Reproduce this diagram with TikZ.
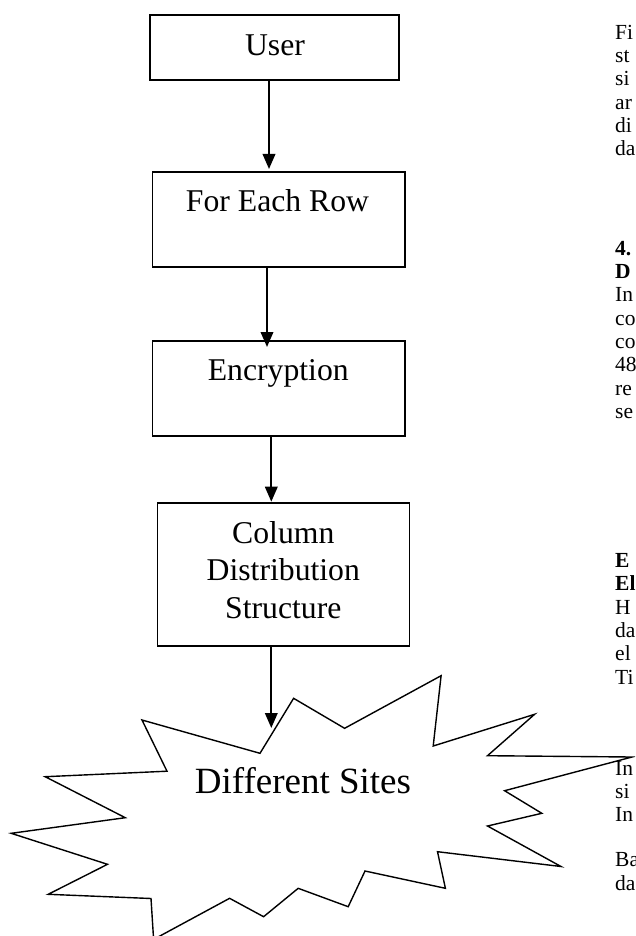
\documentclass[tikz,border=0pt]{standalone}
\usepackage{fontspec}
\setmainfont{Liberation Serif}
\usetikzlibrary{arrows.meta}
\begin{document}
\begin{tikzpicture}[x=1pt,y=-1pt,
  box/.style={draw, line width=1.5pt, inner sep=0pt, outer sep=0pt},
  boxtext/.style={font=\fontsize{31.7}{37.5}\selectfont, anchor=base, inner sep=0pt},
  flow/.style={line width=2pt, -{Triangle[length=15pt,width=12.5pt]}},
  burst/.style={line width=1.4pt, line join=miter, miter limit=20, fill=white},
  bursttext/.style={font=\fontsize{37}{42}\selectfont, anchor=base, inner sep=0pt},
  col/.style={font=\fontsize{21.5}{23.3}\selectfont, anchor=base west, inner sep=0pt},
  colb/.style={col, font=\fontsize{21.5}{23.3}\selectfont\bfseries}
]
\useasboundingbox (0,0) rectangle (635,936);
\clip (0,0) rectangle (635,936);

% process boxes
\node[box, minimum width=249pt, minimum height=65pt] (u) at (274.5,47.5) {};
\node[boxtext] (ut) at (275,56) {User};

\node[box, minimum width=252.3pt, minimum height=95pt] (fer) at (278.85,219.5) {};
\node[boxtext] (fert) at (277.5,211.7) {For Each Row};

\node[box, minimum width=252.3pt, minimum height=95pt] (enc) at (278.85,388.5) {};
\node[boxtext] (enct) at (278.3,380.7) {Encryption};

\node[box, minimum width=251.6pt, minimum height=143pt] (col) at (283.5,574.5) {};
\node[boxtext] (colt1) at (283.3,543.3) {Column};
\node[boxtext] (colt2) at (283.3,580.5) {Distribution};
\node[boxtext] (colt3) at (283.3,618.3) {Structure};

% starburst
\draw[burst] (260,753.3) -- (293.6,698.3) -- (344.6,728.3) -- (441.1,675.7)
  -- (433.2,746) -- (534.6,714.3) -- (487.5,755.7) -- (632,757)
  -- (504.6,790.7) -- (541.8,813.3) -- (487.5,826) -- (561,866.5)
  -- (437.5,851.7) -- (445.4,888.3) -- (365,871) -- (348.2,906.7)
  -- (298.2,888.3) -- (263.6,916.7) -- (229.6,898.3) -- (153.6,939.4)
  -- (151,898.5) -- (48.2,894.3) -- (107.5,864.3) -- (11.2,833.3)
  -- (125.3,817.7) -- (45.2,776.7) -- (167,771.2) -- (142,720) -- cycle;
\node[bursttext] (ds) at (303,793.3) {Different Sites};
\coordinate (hit) at (271.3,728);

% connectors
\coordinate (a1) at ([xshift=-5.5pt]u.south);
\coordinate (a2) at ([xshift=-11.85pt]fer.south);
\coordinate (a3) at ([xshift=-7.55pt]enc.south);
\coordinate (a4) at ([xshift=-12.2pt]col.south);
\draw[flow, shorten >=3pt] (a1) -- (a1 |- fer.north);
\draw[flow, shorten >=-6pt] (a2) -- (a2 |- enc.north);
\draw[flow, shorten >=1.3pt] (a3) -- (a3 |- col.north);
\draw[flow] (a4) -- (hit);

% neighbouring text column, cut by the page edge
\node[col] (r1) at (615,39.3) {Fi};
\node[col] (r2) at (615,62.7) {st};
\node[col] (r3) at (615,86) {si};
\node[col] (r4) at (615,109.3) {ar};
\node[col] (r5) at (615,132.7) {di};
\node[col] (r6) at (615,156) {da};
\node[colb] (r7) at (615,255) {4.};
\node[colb] (r8) at (615,278.3) {D};
\node[col] (r9) at (615,301.7) {In};
\node[col] (r10) at (615,325) {co};
\node[col] (r11) at (615,348.3) {co};
\node[col] (r12) at (615,371.7) {48};
\node[col] (r13) at (615,395) {re};
\node[col] (r14) at (615,418.3) {se};
\node[colb] (r15) at (615,567.3) {E};
\node[colb] (r16) at (615,590.7) {El};
\node[col] (r17) at (615,614) {H};
\node[col] (r18) at (615,637.3) {da};
\node[col] (r19) at (615,660.7) {el};
\node[col] (r20) at (615,684) {Ti};
\node[col] (r21) at (615,775) {In};
\node[col] (r22) at (615,798.3) {si};
\node[col] (r23) at (615,821.7) {In};
\node[col] (r24) at (615,866.7) {Ba};
\node[col] (r25) at (615,890) {da};
\end{tikzpicture}
\end{document}
